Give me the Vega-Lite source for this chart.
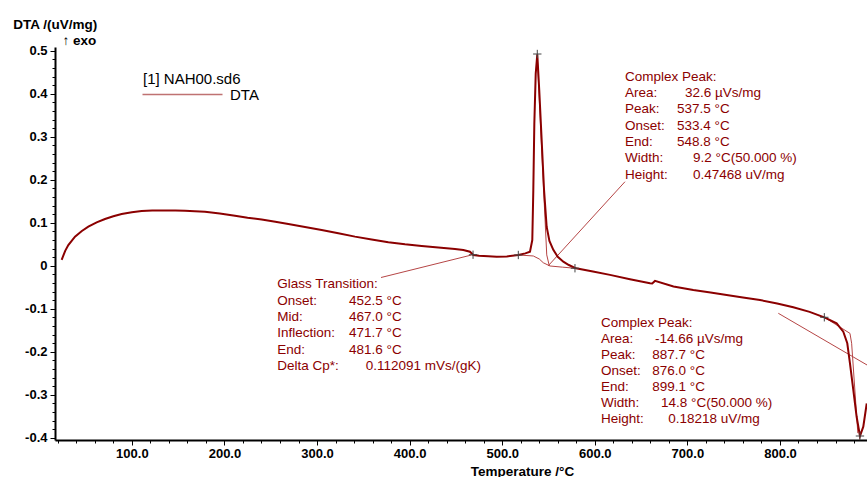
{
  "$schema": "https://vega.github.io/schema/vega-lite/v6.json",
  "autosize": {"type": "none"},
  "padding": {"left": 55, "top": 47, "right": 0, "bottom": 37},
  "width": 812,
  "height": 393,
  "background": "white",
  "config": {"view": {"stroke": null}, "font": "Liberation Sans"},
  "datasets": {
    "curve": [
      {"T": 24.2, "V": 0.014, "series": "DTA"},
      {"T": 28, "V": 0.035, "series": "DTA"},
      {"T": 31.4, "V": 0.0485, "series": "DTA"},
      {"T": 38.6, "V": 0.068, "series": "DTA"},
      {"T": 46, "V": 0.081, "series": "DTA"},
      {"T": 53, "V": 0.091, "series": "DTA"},
      {"T": 62, "V": 0.101, "series": "DTA"},
      {"T": 71, "V": 0.109, "series": "DTA"},
      {"T": 80, "V": 0.1155, "series": "DTA"},
      {"T": 89, "V": 0.1206, "series": "DTA"},
      {"T": 100, "V": 0.1248, "series": "DTA"},
      {"T": 110.6, "V": 0.1276, "series": "DTA"},
      {"T": 122, "V": 0.1287, "series": "DTA"},
      {"T": 135.8, "V": 0.129, "series": "DTA"},
      {"T": 147, "V": 0.1289, "series": "DTA"},
      {"T": 157.4, "V": 0.128, "series": "DTA"},
      {"T": 168, "V": 0.1272, "series": "DTA"},
      {"T": 179, "V": 0.126, "series": "DTA"},
      {"T": 195, "V": 0.1218, "series": "DTA"},
      {"T": 211.4, "V": 0.1167, "series": "DTA"},
      {"T": 225, "V": 0.112, "series": "DTA"},
      {"T": 240.2, "V": 0.108, "series": "DTA"},
      {"T": 255, "V": 0.1025, "series": "DTA"},
      {"T": 269, "V": 0.0974, "series": "DTA"},
      {"T": 287, "V": 0.0905, "series": "DTA"},
      {"T": 305, "V": 0.0834, "series": "DTA"},
      {"T": 323, "V": 0.0758, "series": "DTA"},
      {"T": 341, "V": 0.068, "series": "DTA"},
      {"T": 359, "V": 0.0612, "series": "DTA"},
      {"T": 377, "V": 0.0548, "series": "DTA"},
      {"T": 395, "V": 0.05, "series": "DTA"},
      {"T": 413, "V": 0.0462, "series": "DTA"},
      {"T": 431, "V": 0.0425, "series": "DTA"},
      {"T": 449, "V": 0.0392, "series": "DTA"},
      {"T": 458, "V": 0.037, "series": "DTA"},
      {"T": 465.2, "V": 0.033, "series": "DTA"},
      {"T": 468.8, "V": 0.0253, "series": "DTA"},
      {"T": 475, "V": 0.0235, "series": "DTA"},
      {"T": 485, "V": 0.0222, "series": "DTA"},
      {"T": 494, "V": 0.021, "series": "DTA"},
      {"T": 505, "V": 0.022, "series": "DTA"},
      {"T": 517.4, "V": 0.0253, "series": "DTA"},
      {"T": 525, "V": 0.029, "series": "DTA"},
      {"T": 530, "V": 0.033, "series": "DTA"},
      {"T": 532.5, "V": 0.06, "series": "DTA"},
      {"T": 533.6, "V": 0.176, "series": "DTA"},
      {"T": 534.7, "V": 0.331, "series": "DTA"},
      {"T": 536.2, "V": 0.447, "series": "DTA"},
      {"T": 537.9, "V": 0.492, "series": "DTA"},
      {"T": 540, "V": 0.409, "series": "DTA"},
      {"T": 542.6, "V": 0.293, "series": "DTA"},
      {"T": 545.2, "V": 0.176, "series": "DTA"},
      {"T": 548, "V": 0.091, "series": "DTA"},
      {"T": 551, "V": 0.058, "series": "DTA"},
      {"T": 555.2, "V": 0.0374, "series": "DTA"},
      {"T": 560, "V": 0.021, "series": "DTA"},
      {"T": 566, "V": 0.0097, "series": "DTA"},
      {"T": 572, "V": 0.002, "series": "DTA"},
      {"T": 579.7, "V": -0.0057, "series": "DTA"},
      {"T": 598, "V": -0.013, "series": "DTA"},
      {"T": 616.4, "V": -0.021, "series": "DTA"},
      {"T": 638, "V": -0.031, "series": "DTA"},
      {"T": 659.6, "V": -0.0405, "series": "DTA"},
      {"T": 662, "V": -0.041, "series": "DTA"},
      {"T": 665, "V": -0.035, "series": "DTA"},
      {"T": 685, "V": -0.048, "series": "DTA"},
      {"T": 706.4, "V": -0.056, "series": "DTA"},
      {"T": 725, "V": -0.062, "series": "DTA"},
      {"T": 742.4, "V": -0.0677, "series": "DTA"},
      {"T": 760, "V": -0.0735, "series": "DTA"},
      {"T": 778.4, "V": -0.0794, "series": "DTA"},
      {"T": 797, "V": -0.0875, "series": "DTA"},
      {"T": 814.4, "V": -0.0964, "series": "DTA"},
      {"T": 832, "V": -0.107, "series": "DTA"},
      {"T": 848.6, "V": -0.1205, "series": "DTA"},
      {"T": 861.2, "V": -0.1336, "series": "DTA"},
      {"T": 868.4, "V": -0.153, "series": "DTA"},
      {"T": 872.7, "V": -0.18, "series": "DTA"},
      {"T": 875.6, "V": -0.2266, "series": "DTA"},
      {"T": 879.2, "V": -0.2887, "series": "DTA"},
      {"T": 882.8, "V": -0.351, "series": "DTA"},
      {"T": 886.4, "V": -0.3957, "series": "DTA"},
      {"T": 890, "V": -0.374, "series": "DTA"},
      {"T": 893.7, "V": -0.32, "series": "DTA"}
    ],
    "construction": [
      {"id": "g1", "o": 1, "T": 369.1, "V": -0.0271},
      {"id": "g1", "o": 2, "T": 467, "V": 0.0253},
      {"id": "p1", "o": 1, "T": 632.6, "V": 0.1957},
      {"id": "p1", "o": 2, "T": 549.5, "V": -0.0003},
      {"id": "b1", "o": 1, "T": 517.4, "V": 0.0253},
      {"id": "b1", "o": 2, "T": 533.6, "V": 0.023},
      {"id": "b1", "o": 3, "T": 540, "V": 0.016},
      {"id": "b1", "o": 4, "T": 544.4, "V": 0.0072},
      {"id": "b1", "o": 5, "T": 551.6, "V": -0.0003},
      {"id": "b1", "o": 6, "T": 565, "V": -0.003},
      {"id": "b1", "o": 7, "T": 578.6, "V": -0.0055},
      {"id": "i1", "o": 1, "T": 537.9, "V": 0.485},
      {"id": "i1", "o": 2, "T": 548.1, "V": 0.0255},
      {"id": "i1", "o": 3, "T": 550.9, "V": -0.0003},
      {"id": "t2", "o": 1, "T": 798.2, "V": -0.1103},
      {"id": "t2", "o": 2, "T": 894, "V": -0.2305},
      {"id": "b2", "o": 1, "T": 847.9, "V": -0.1196},
      {"id": "b2", "o": 2, "T": 875.6, "V": -0.157},
      {"id": "b2", "o": 3, "T": 877.4, "V": -0.18},
      {"id": "b2", "o": 4, "T": 884.1, "V": -0.389}
    ],
    "marks": [
      {"T": 468.5, "V": 0.0259},
      {"T": 517.4, "V": 0.0253},
      {"T": 537.9, "V": 0.4927},
      {"T": 578.6, "V": -0.0055},
      {"T": 847.9, "V": -0.1196},
      {"T": 886.4, "V": -0.3957}
    ],
    "notes": [
      {"T": 632.6, "V": 0.440, "txt": "Complex Peak:"},
      {"T": 632.6, "V": 0.402, "txt": "Area:"},
      {"T": 697.4, "V": 0.402, "txt": "32.6 µVs/mg"},
      {"T": 632.6, "V": 0.364, "txt": "Peak:"},
      {"T": 688.8, "V": 0.364, "txt": "537.5 °C"},
      {"T": 632.6, "V": 0.326, "txt": "Onset:"},
      {"T": 688.8, "V": 0.326, "txt": "533.4 °C"},
      {"T": 632.6, "V": 0.288, "txt": "End:"},
      {"T": 688.8, "V": 0.288, "txt": "548.8 °C"},
      {"T": 632.6, "V": 0.250, "txt": "Width:"},
      {"T": 706.1, "V": 0.250, "txt": "9.2 °C(50.000 %)"},
      {"T": 632.6, "V": 0.212, "txt": "Height:"},
      {"T": 706.1, "V": 0.212, "txt": "0.47468 uV/mg"},
      {"T": 257.1, "V": -0.043, "txt": "Glass Transition:"},
      {"T": 257.1, "V": -0.081, "txt": "Onset:"},
      {"T": 334.5, "V": -0.081, "txt": "452.5 °C"},
      {"T": 257.1, "V": -0.119, "txt": "Mid:"},
      {"T": 334.5, "V": -0.119, "txt": "467.0 °C"},
      {"T": 257.1, "V": -0.157, "txt": "Inflection:"},
      {"T": 334.5, "V": -0.157, "txt": "471.7 °C"},
      {"T": 257.1, "V": -0.195, "txt": "End:"},
      {"T": 334.5, "V": -0.195, "txt": "481.6 °C"},
      {"T": 257.1, "V": -0.233, "txt": "Delta Cp*:"},
      {"T": 352.6, "V": -0.233, "txt": "0.112091 mVs/(gK)"},
      {"T": 606.7, "V": -0.132, "txt": "Complex Peak:"},
      {"T": 606.7, "V": -0.169, "txt": "Area:"},
      {"T": 665.0, "V": -0.169, "txt": "-14.66 µVs/mg"},
      {"T": 606.7, "V": -0.207, "txt": "Peak:"},
      {"T": 662.1, "V": -0.207, "txt": "887.7 °C"},
      {"T": 606.7, "V": -0.244, "txt": "Onset:"},
      {"T": 662.1, "V": -0.244, "txt": "876.0 °C"},
      {"T": 606.7, "V": -0.282, "txt": "End:"},
      {"T": 662.1, "V": -0.282, "txt": "899.1 °C"},
      {"T": 606.7, "V": -0.319, "txt": "Width:"},
      {"T": 671.5, "V": -0.319, "txt": "14.8 °C(50.000 %)"},
      {"T": 606.7, "V": -0.357, "txt": "Height:"},
      {"T": 679.4, "V": -0.357, "txt": "0.18218 uV/mg"}
    ]
  },
  "resolve": {"axis": {"x": "independent", "y": "independent"}},
  "layer": [
    {
      "data": {"name": "construction"},
      "mark": {"type": "line", "stroke": "#b54545", "strokeWidth": 1, "clip": true},
      "encoding": {
        "x": {"field": "T", "type": "quantitative", "scale": {"domain": [17, 894], "nice": false, "zero": false},
          "axis": {"values": [20,40,60,80,120,140,160,180,220,240,260,280,320,340,360,380,420,440,460,480,520,540,560,580,620,640,660,680,720,740,760,780,820,840,860,880],
            "labels": false, "domain": false, "grid": false, "tickSize": 3, "tickColor": "black", "tickWidth": 1, "title": null, "orient": "bottom"}},
        "y": {"field": "V", "type": "quantitative", "scale": {"domain": [-0.405, 0.509], "nice": false, "zero": false},
          "axis": {"values": [-0.38,-0.36,-0.34,-0.32,-0.28,-0.26,-0.24,-0.22,-0.18,-0.16,-0.14,-0.12,-0.08,-0.06,-0.04,-0.02,0.02,0.04,0.06,0.08,0.12,0.14,0.16,0.18,0.22,0.24,0.26,0.28,0.32,0.34,0.36,0.38,0.42,0.44,0.46,0.48],
            "labels": false, "domain": false, "grid": false, "tickSize": 3, "tickColor": "black", "tickWidth": 1, "orient": "left",
            "title": "↑ exo", "titleAngle": 0, "titleX": 7, "titleY": -7, "titleAlign": "left", "titleBaseline": "middle",
            "titleFont": "Liberation Sans", "titleFontSize": 13.5, "titleFontWeight": "bold", "titleColor": "black"}},
        "detail": {"field": "id", "type": "nominal"},
        "order": {"field": "o", "type": "quantitative"}
      }
    },
    {
      "data": {"name": "curve"},
      "mark": {"type": "line", "strokeWidth": 2, "clip": true},
      "encoding": {
        "x": {"field": "T", "type": "quantitative",
          "axis": {"values": [100,200,300,400,500,600,700,800], "format": ".1f", "orient": "bottom",
            "labelFont": "Liberation Sans", "labelFontWeight": "bold", "labelFontSize": 13, "labelColor": "black", "labelPadding": 2,
            "domainColor": "black", "domainWidth": 2, "tickColor": "black", "tickSize": 5, "tickWidth": 1, "grid": false,
            "labelFlush": false, "labelOverlap": false,
            "title": "Temperature /°C", "titleFont": "Liberation Sans", "titleFontSize": 13.5, "titleFontWeight": "bold", "titleColor": "black",
            "titleX": 467, "titleY": 31, "titleAlign": "center", "titleBaseline": "middle"}},
        "y": {"field": "V", "type": "quantitative",
          "axis": {"values": [-0.4,-0.3,-0.2,-0.1,0,0.1,0.2,0.3,0.4,0.5], "orient": "left",
            "labelExpr": "replace(format(datum.value, '.1~f'), '\u2212', '-')",
            "labelFont": "Liberation Sans", "labelFontWeight": "bold", "labelFontSize": 13, "labelColor": "black", "labelPadding": 3,
            "domainColor": "black", "domainWidth": 2, "tickColor": "black", "tickSize": 5, "tickWidth": 1, "grid": false,
            "labelFlush": false, "labelOverlap": false,
            "title": "DTA /(uV/mg)", "titleAngle": 0, "titleX": -42.3, "titleY": -23, "titleAlign": "left", "titleBaseline": "middle",
            "titleFont": "Liberation Sans", "titleFontSize": 13.5, "titleFontWeight": "bold", "titleColor": "black"}},
        "color": {"field": "series", "type": "nominal", "scale": {"domain": ["DTA"], "range": ["#8b0000"]},
          "legend": {"orient": "none", "legendX": 88, "legendY": 25, "padding": 0, "title": "[1] NAH00.sd6",
            "titleFont": "Liberation Sans", "titleFontSize": 15, "titleFontWeight": "normal", "titleColor": "black", "titlePadding": 0,
            "labelFont": "Liberation Sans", "labelFontSize": 15, "labelColor": "black", "labelOffset": 72,
            "symbolType": "M-2,0L18,0", "symbolSize": 64, "symbolStrokeWidth": 1.5, "symbolOpacity": 0.55}}
      }
    },
    {
      "data": {"name": "marks"},
      "mark": {"type": "point", "shape": "M-1,0L1,0M0,-1L0,1", "filled": false, "stroke": "#444444", "strokeWidth": 1, "size": 70, "opacity": 1},
      "encoding": {
        "x": {"field": "T", "type": "quantitative", "axis": null},
        "y": {"field": "V", "type": "quantitative", "axis": null}
      }
    },
    {
      "data": {"name": "notes"},
      "mark": {"type": "text", "align": "left", "baseline": "middle", "font": "Liberation Sans", "fontSize": 13.5, "color": "#8b0000"},
      "encoding": {
        "x": {"field": "T", "type": "quantitative", "axis": null},
        "y": {"field": "V", "type": "quantitative", "axis": null},
        "text": {"field": "txt", "type": "nominal"}
      }
    }
  ]
}
